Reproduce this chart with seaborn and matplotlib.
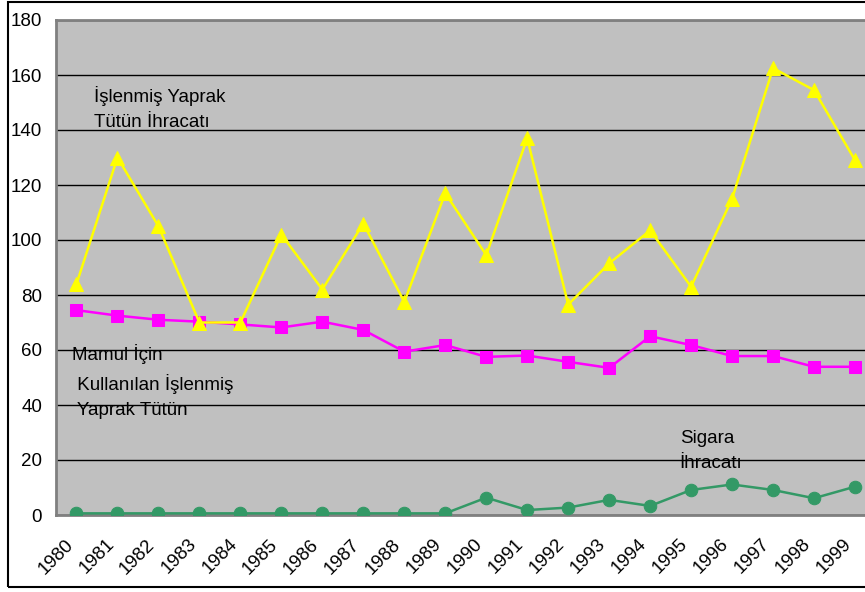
import numpy as np
import pandas as pd
import matplotlib
matplotlib.use("Agg")
import matplotlib.pyplot as plt
import matplotlib.transforms as mtransforms
from matplotlib.patches import Rectangle
import seaborn as sns

# values
years = list(range(1980, 2000))
yaprak_ihracat = [84, 130, 105, 70, 70, 102, 82, 106, 77.5, 117,
                  94.5, 137, 76.5, 91.5, 103.5, 83, 115, 162.5, 154.5, 129]
mamul_icin = [74.5, 72.5, 71, 70.3, 69.3, 68.2, 70.3, 67.3, 59.4, 61.8,
              57.5, 58, 55.7, 53.5, 65, 61.8, 57.8, 57.8, 53.9, 53.9]
sigara_ihracat = [0.6, 0.6, 0.6, 0.6, 0.6, 0.6, 0.6, 0.6, 0.6, 0.6,
                  6.3, 1.8, 2.7, 5.5, 3.3, 9.1, 11.1, 9.1, 6.1, 10.3]
y_ticks = list(range(0, 181, 20))

sns.set_style("white")
plt.rcParams['font.family'] = ['Liberation Sans', 'DejaVu Sans']
plt.rcParams['text.color'] = 'black'
plt.rcParams['xtick.color'] = 'black'
plt.rcParams['ytick.color'] = 'black'

df = pd.DataFrame({
    'year': years * 3,
    'value': yaprak_ihracat + mamul_icin + sigara_ihracat,
    'series': ['yaprak'] * 20 + ['mamul'] * 20 + ['sigara'] * 20,
})

fig = plt.figure(figsize=(8.65, 5.92), dpi=100)
ax = fig.add_axes([56 / 865, 77 / 592, 819.5 / 865, 495 / 592])
ax.set_facecolor('#C0C0C0')

# draw order: sigara, mamul, then yaprak on top (triangles cover squares in 1983-84)
styles = {
    'sigara': dict(color='#339966', marker='o', markersize=9, z=3),
    'mamul': dict(color='#FF00FF', marker='s', markersize=8, z=4),
    'yaprak': dict(color='#FFFF00', marker='^', markersize=10.5, z=5),
}
for name, st in styles.items():
    sub = df[df['series'] == name]
    sns.lineplot(data=sub, x='year', y='value', ax=ax, color=st['color'],
                 marker=st['marker'], markersize=st['markersize'],
                 markeredgecolor=st['color'], linewidth=1.8, legend=False,
                 zorder=st['z'])

ax.set_xlim(years[0] - 0.5, years[-1] + 0.5)
ax.set_ylim(0, 180)
ax.set_yticks(y_ticks)
ax.set_xticks(years)
ax.set_xticks([y - 0.5 for y in years], minor=True)
ax.set_xticklabels([str(y) for y in years], rotation=45, ha='right',
                   rotation_mode='anchor', fontsize=13.5)
ax.tick_params(axis='x', which='major', length=0, pad=15)
ax.tick_params(axis='x', which='minor', length=6, width=1, color='#555555')
ax.tick_params(axis='y', length=6, width=1, color='#333333', labelsize=13.5, pad=4)
ax.set_xlabel('')
ax.set_ylabel('')

# shift rotated year labels a little to the left, as in the original
shift = mtransforms.ScaledTranslation(-12 / 100, 0, fig.dpi_scale_trans)
for lab in ax.get_xticklabels():
    lab.set_transform(lab.get_transform() + shift)

ax.yaxis.grid(True, color='black', linewidth=1)
ax.set_axisbelow(True)
for side in ['left', 'bottom', 'top', 'right']:
    ax.spines[side].set_color('#808080')
    ax.spines[side].set_linewidth(2)

ax.text(1980.42, 156, 'İşlenmiş Yaprak\nTütün İhracatı', fontsize=13.5,
        va='top', ha='left', linespacing=1.6)
ax.text(1979.88, 62, 'Mamul İçin\n Kullanılan İşlenmiş\n Yaprak Tütün', fontsize=13.5,
        va='top', ha='left', linespacing=1.6)
ax.text(1994.72, 31, 'Sigara\nİhracatı', fontsize=13.5,
        va='top', ha='left', linespacing=1.6)

fig.patches.append(Rectangle((8 / 865, 5 / 592), 1.0, 585 / 592,
                             transform=fig.transFigure, fill=False,
                             edgecolor='black', linewidth=1.5))

fig.savefig('out.png', dpi=100)
